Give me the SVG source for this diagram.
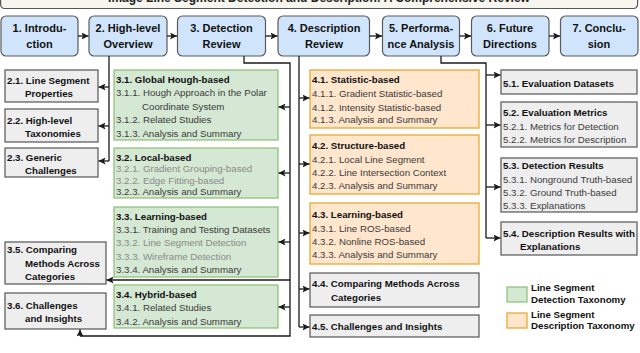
<svg xmlns="http://www.w3.org/2000/svg" width="640" height="353" viewBox="0 0 640 353">
<defs>
<marker id="ah" markerUnits="userSpaceOnUse" markerWidth="8" markerHeight="7" refX="7" refY="3.5" orient="auto">
<path d="M0,0 L7,3.5 L0,7 L1.5,3.5 z" fill="#1a1a1a"/>
</marker>
<style>
text{font-family:"Liberation Sans",Arial,sans-serif}
.tt{font-size:11px;font-weight:bold;fill:#111;text-anchor:middle}
.title{font-size:12px;font-weight:bold;fill:#222;text-anchor:middle}
.b{font-size:9.7px;font-weight:bold;fill:#111}
.r{font-size:9.7px;fill:#3a3a3a}
.l{font-size:9.7px;fill:#8a8a8a}
.lg{font-size:9.7px;font-weight:bold;fill:#111}
.top{fill:#d0e5fb;stroke:#5a5a5a;stroke-width:1.2}
.gray{fill:#eeeeee;stroke:#555;stroke-width:1.2}
.green{fill:#d5e8d4;stroke:#8bbf73;stroke-width:1.2}
.orange{fill:#ffe6cc;stroke:#eaa934;stroke-width:1.3}
.c{fill:none;stroke:#1a1a1a;stroke-width:1.3}
.ca{fill:none;stroke:#1a1a1a;stroke-width:1.3;marker-end:url(#ah)}
</style>
</defs>
<rect width="640" height="353" fill="#fff"/>

<g id="title">
<rect x="0.6" y="-10" width="637" height="18.5" rx="4" fill="#f6f5ee" stroke="#555" stroke-width="1.2"/>
<text class="title" x="319" y="2">Image Line Segment Detection and Description: A Comprehensive Review</text>
</g>

<g id="n1"><rect class="top" x="1" y="16" width="77" height="40" rx="5"/><text class="tt" x="39.5" y="32">1. Introdu-</text><text class="tt" x="39.5" y="48">ction</text></g>
<g id="n2"><rect class="top" x="89" y="16" width="78" height="40" rx="5"/><text class="tt" x="128" y="32">2. High-level</text><text class="tt" x="128" y="48">Overview</text></g>
<g id="n3"><rect class="top" x="177.5" y="16" width="88" height="40" rx="5"/><text class="tt" x="221.5" y="32">3. Detection</text><text class="tt" x="221.5" y="48">Review</text></g>
<g id="n4"><rect class="top" x="278" y="16" width="91.5" height="40" rx="5"/><text class="tt" x="324" y="32">4. Description</text><text class="tt" x="324" y="48">Review</text></g>
<g id="n5"><rect class="top" x="382.5" y="16" width="77" height="40" rx="5"/><text class="tt" x="421" y="32">5. Performa-</text><text class="tt" x="421" y="48">nce Analysis</text></g>
<g id="n6"><rect class="top" x="471.5" y="16" width="77.5" height="40" rx="5"/><text class="tt" x="510" y="32">6. Future</text><text class="tt" x="510" y="48">Directions</text></g>
<g id="n7"><rect class="top" x="560.5" y="16" width="77.5" height="40" rx="5"/><text class="tt" x="599" y="32">7. Conclu-</text><text class="tt" x="599" y="48">sion</text></g>

<g id="n2_1"><rect class="gray" x="5" y="70" width="93" height="32"/><text class="b" x="7" y="83.5">2.1. Line Segment</text><text class="b" x="25" y="97">Properties</text></g>
<g id="n2_2"><rect class="gray" x="5" y="109" width="93" height="33"/><text class="b" x="7" y="123.5">2.2. High-level</text><text class="b" x="25" y="136.5">Taxonomies</text></g>
<g id="n2_3"><rect class="gray" x="5" y="148" width="93" height="29"/><text class="b" x="7" y="160.5">2.3. Generic</text><text class="b" x="25" y="173.5">Challenges</text></g>
<g id="n3_5"><rect class="gray" x="5" y="242" width="101" height="42"/><text class="b" x="7" y="253">3.5. Comparing</text><text class="b" x="25" y="266.5">Methods Across</text><text class="b" x="25" y="280">Categories</text></g>
<g id="n3_6"><rect class="gray" x="5" y="293" width="101" height="36"/><text class="b" x="7" y="308.5">3.6. Challenges</text><text class="b" x="25" y="322">and Insights</text></g>

<g id="n3_1"><rect class="green" x="114" y="70" width="164" height="70"/>
<text class="b" x="116" y="82.5">3.1. Global Hough-based</text>
<text class="r" x="116" y="96">3.1.1. Hough Approach in the Polar</text>
<text class="r" x="142" y="109.5">Coordinate System</text>
<text class="r" x="116" y="123">3.1.2. Related Studies</text>
<text class="r" x="116" y="136.5">3.1.3. Analysis and Summary</text></g>
<g id="n3_2"><rect class="green" x="114" y="148" width="164" height="50"/>
<text class="b" x="116" y="160.8">3.2. Local-based</text>
<text class="l" x="116" y="171.8">3.2.1. Gradient Grouping-based</text>
<text class="l" x="116" y="184">3.2.2. Edge Fitting-based</text>
<text class="r" x="116" y="195.2">3.2.3. Analysis and Summary</text></g>
<g id="n3_3"><rect class="green" x="114" y="207" width="164" height="70"/>
<text class="b" x="116" y="219.5">3.3. Learning-based</text>
<text class="r" x="116" y="233">3.3.1. Training and Testing Datasets</text>
<text class="l" x="116" y="246">3.3.2. Line Segment Detection</text>
<text class="l" x="116" y="259.5">3.3.3. Wireframe Detection</text>
<text class="r" x="116" y="273">3.3.4. Analysis and Summary</text></g>
<g id="n3_4"><rect class="green" x="114" y="285" width="164" height="43"/>
<text class="b" x="116" y="297.5">3.4. Hybrid-based</text>
<text class="r" x="116" y="311">3.4.1. Related Studies</text>
<text class="r" x="116" y="324.5">3.4.2. Analysis and Summary</text></g>

<g id="n4_1"><rect class="orange" x="310" y="70" width="169" height="58"/>
<text class="b" x="312" y="83">4.1. Statistic-based</text>
<text class="r" x="312" y="97">4.1.1. Gradient Statistic-based</text>
<text class="r" x="312" y="110.5">4.1.2. Intensity Statistic-based</text>
<text class="r" x="312" y="123">4.1.3. Analysis and Summary</text></g>
<g id="n4_2"><rect class="orange" x="310" y="135" width="169" height="59"/>
<text class="b" x="312" y="148.5">4.2. Structure-based</text>
<text class="r" x="312" y="162.5">4.2.1. Local Line Segment</text>
<text class="r" x="312" y="176">4.2.2. Line Intersection Context</text>
<text class="r" x="312" y="188.5">4.2.3. Analysis and Summary</text></g>
<g id="n4_3"><rect class="orange" x="310" y="203" width="169" height="61"/>
<text class="b" x="312" y="218">4.3. Learning-based</text>
<text class="r" x="312" y="231.5">4.3.1. Line ROS-based</text>
<text class="r" x="312" y="245">4.3.2. Nonline ROS-based</text>
<text class="r" x="312" y="258">4.3.3. Analysis and Summary</text></g>
<g id="n4_4"><rect class="gray" x="310" y="273" width="169" height="34"/>
<text class="b" x="312" y="287">4.4. Comparing Methods Across</text>
<text class="b" x="331" y="301">Categories</text></g>
<g id="n4_5"><rect class="gray" x="310" y="315" width="169" height="22"/>
<text class="b" x="312" y="330">4.5. Challenges and Insights</text></g>

<g id="n5_1"><rect class="gray" x="501" y="70" width="136" height="24"/>
<text class="b" x="503" y="87">5.1. Evaluation Datasets</text></g>
<g id="n5_2"><rect class="gray" x="501" y="102" width="136" height="45"/>
<text class="b" x="503" y="116">5.2. Evaluation Metrics</text>
<text class="r" x="503" y="129.5">5.2.1. Metrics for Detection</text>
<text class="r" x="503" y="143">5.2.2. Metrics for Description</text></g>
<g id="n5_3"><rect class="gray" x="501" y="158" width="136" height="54"/>
<text class="b" x="503" y="168.5">5.3. Detection Results</text>
<text class="r" x="503" y="182.5">5.3.1. Nonground Truth-based</text>
<text class="r" x="503" y="195.5">5.3.2. Ground Truth-based</text>
<text class="r" x="503" y="209">5.3.3. Explanations</text></g>
<g id="n5_4"><rect class="gray" x="501" y="222" width="136" height="33"/>
<text class="b" x="503" y="236.5">5.4. Description Results with</text>
<text class="b" x="520" y="249.5">Explanations</text></g>

<g id="legend">
<rect class="green" x="507" y="287" width="20" height="15"/>
<text class="lg" x="531" y="291">Line Segment</text>
<text class="lg" x="531" y="303">Detection Taxonomy</text>
<rect class="orange" x="507" y="313" width="20" height="15"/>
<text class="lg" x="531" y="317.5">Line Segment</text>
<text class="lg" x="531" y="329">Description Taxonomy</text>
</g>

<g id="connectors">
<path class="ca" d="M78,36 H88.5"/>
<path class="ca" d="M167,36 H177"/>
<path class="ca" d="M265.5,36 H277.5"/>
<path class="ca" d="M369.5,36 H382"/>
<path class="ca" d="M459.5,36 H471"/>
<path class="ca" d="M549,36 H560"/>

<path class="c" d="M109,56 V161"/>
<path class="ca" d="M109,87 H98.5"/>
<path class="ca" d="M109,126 H98.5"/>
<path class="ca" d="M109,161 H98.5"/>

<path class="c" d="M244,56 V63 H290 V336 H80"/>
<path class="ca" d="M80,336 V329.5"/>
<path class="ca" d="M290,107 H278.5"/>
<path class="ca" d="M290,173 H278.5"/>
<path class="ca" d="M290,242 H278.5"/>
<path class="ca" d="M290,307 H278.5"/>
<path class="ca" d="M290,280 H106.5"/>

<path class="c" d="M299,56 V327"/>
<path class="ca" d="M299,98 H309.5"/>
<path class="ca" d="M299,164 H309.5"/>
<path class="ca" d="M299,233 H309.5"/>
<path class="ca" d="M299,289 H309.5"/>
<path class="ca" d="M299,327 H309.5"/>

<path class="c" d="M441,56 V63 H486 V238"/>
<path class="ca" d="M486,75 H500.5"/>
<path class="ca" d="M486,125 H500.5"/>
<path class="ca" d="M486,187 H500.5"/>
<path class="ca" d="M486,238 H500.5"/>
</g>
</svg>
